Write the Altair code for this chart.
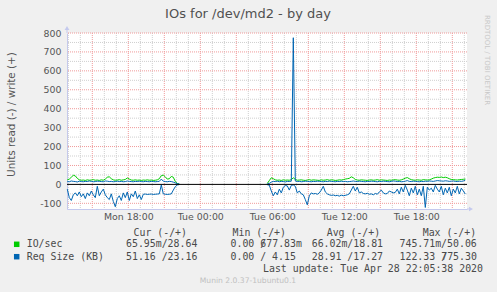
import altair as alt
import pandas as pd

# ---------------- data ----------------
# first run of samples: Mon 12:55 -> Mon 22:15, every 10 minutes
io_write_1 = [24, 28, 38, 48, 45, 32, 24, 22, 23, 21,
              24, 22, 23, 25, 22, 23, 21, 24, 22, 28,
              38, 40, 30, 24, 22, 23, 25, 22, 24, 26,
              34, 28, 23, 22, 24, 22, 23, 21, 23, 22,
              24, 22, 23, 21, 22, 24, 30, 46, 49, 40,
              28, 30, 42, 38, 15, 5, 2]
req_write_1 = [15, 14, 18, 16, 15, 13, 17, 15, 14, 16,
               15, 18, 16, 14, 15, 17, 16, 15, 14, 18,
               17, 15, 16, 14, 15, 17, 15, 16, 14, 15,
               18, 16, 15, 14, 16, 15, 17, 15, 14, 16,
               15, 14, 16, 15, 14, 15, 16, 28, 17, 15,
               14, 16, 15, 12, 8, 4, 2]
req_read_1 = [-25, -70, -85, -55, -45, -60, -40, -65, -50, -75,
              -45, -60, -35, -55, -70, -10, -60, -40, -25, -55,
              -70, -80, -50, -90, -118, -75, -60, -85, -45, -70,
              -40, -85, -50, -65, -35, -75, -55, -80, -52, -51,
              -53, -52, -51, -53, -52, -51, -50, -3, -50, -52,
              -53, -52, -50, -30, -12, -3, -1]

# second run of samples: Tue 05:35 -> Tue 22:05, every 10 minutes
io_write_2 = [5, 20, 35, 30, 24, 22, 23, 21, 24, 22,
              23, 22, 25, 35, 26, 22, 23, 24, 22, 21,
              23, 25, 22, 24, 23, 22, 21, 24, 22, 23,
              25, 22, 24, 23, 21, 22, 24, 23, 25, 28,
              30, 32, 40, 35, 26, 23, 22, 24, 23, 22,
              21, 23, 24, 22, 23, 25, 22, 24, 23, 22,
              21, 23, 22, 24, 25, 23, 22, 24, 28, 33,
              36, 30, 25, 23, 22, 24, 23, 22, 25, 24,
              23, 24, 28, 33, 36, 38, 37, 39, 36, 38,
              35, 30, 26, 25, 24, 23, 25, 26, 27, 29]
req_write_2 = [3, 5, 12, 16, 15, 17, 14, 16, 15, 13,
               16, 15, 17, 775, 18, 15, 16, 14, 15, 17,
               16, 15, 14, 16, 15, 17, 16, 15, 14, 16,
               15, 17, 16, 15, 14, 16, 15, 17, 15, 16,
               14, 15, 16, 18, 16, 15, 17, 16, 15, 14,
               16, 15, 17, 16, 15, 14, 16, 15, 17, 16,
               15, 14, 16, 18, 17, 15, 16, 14, 15, 17,
               20, 16, 15, 17, 16, 15, 14, 16, 15, 17,
               16, 18, 17, 16, 18, 20, 19, 18, 17, 19,
               18, 16, 17, 18, 16, 15, 17, 16, 18, 23]
req_read_2 = [-2, -4, -35, -60, -40, -55, -25, -45, -15, -6,
              -8, -30, -5, -3, -10, -45, -35, -50, -55, -80,
              -108, -60, -45, -50, -48, -52, -45, -30, -10, -40,
              -50, -55, -58, -56, -60, -58, -62, -57, -60, -58,
              -55, -50, -30, -10, -35, -15, -45, -40, -48, -50,
              -47, -52, -50, -55, -48, -52, -40, -30, -45, -50,
              -48, -35, -40, -45, -42, -25, -50, -15, -40, -5,
              -30, -60, -20, -45, -10, -55, -25, -60, -10, -122,
              -15, -30, -20, -40, -5, -25, -40, -10, -55, -20,
              -45, -15, -60, -25, -45, -10, -50, -20, -35, -51]

SEG1_START = "2020-04-27 12:55"
SEG2_START = "2020-04-28 05:35"
STEP = "10min"

legend_names = ["IO/sec", "Req Size (KB)"]
legend_colors = ["#00CC00", "#0066B3"]
col_heads = ["Cur (-/+)", "Min (-/+)", "Avg (-/+)", "Max (-/+)"]
cur_vals = ["65.95m/28.64", "51.16 /23.16"]
min_vals = ["0.00 /677.83m", "0.00 / 4.15"]
avg_vals = ["66.02m/18.81", "28.91 /17.27"]
max_vals = ["745.71m/50.06", "122.33 /775.30"]
title_text = "IOs for /dev/md2 - by day"
y_title = "Units read (-) / write (+)"
last_update = "Last update: Tue Apr 28 22:05:38 2020"
version_text = "Munin 2.0.37-1ubuntu0.1"
side_text = "RRDTOOL / TOBI OETIKER"

# ---------------- build tables ----------------
def seg_frame(values, start, series, seg):
    t = pd.date_range(start, periods=len(values), freq=STEP)
    return pd.DataFrame({"time": t, "value": values, "series": series, "seg": seg})

frames = []
for name, s1, s2 in [("io", io_write_1, io_write_2),
                     ("req_w", req_write_1, req_write_2),
                     ("req_r", req_read_1, req_read_2)]:
    frames.append(seg_frame(s1, SEG1_START, name, 1))
    frames.append(seg_frame(s2, SEG2_START, name, 2))
df = pd.concat(frames, ignore_index=True)

hours = pd.date_range("2020-04-27 13:00", "2020-04-28 22:00", freq="h")
grid_x_minor = pd.DataFrame({"time": [h for h in hours if h.hour % 3 != 0]})
grid_x_major = pd.DataFrame({"time": [h for h in hours if h.hour % 3 == 0]})
grid_y_minor = pd.DataFrame({"v": list(range(-50, 800, 100))})
grid_y_major = pd.DataFrame({"v": [v for v in range(-100, 801, 100) if v != 0]})
zero_df = pd.DataFrame({"v": [0]})
one = pd.DataFrame({"k": [0]})

# ---------------- scales / axes ----------------
AXC = "#c4c9ee"
TXT = "#4a4a4a"
X_SCALE = alt.Scale(domain=[alt.DateTime(year=2020, month=4, date=27, hours=12, minutes=53, seconds=30),
                            alt.DateTime(year=2020, month=4, date=28, hours=22, minutes=13, seconds=30)])
Y_SCALE = alt.Scale(domain=[-130, 800], nice=False, zero=False)

label_times = [alt.DateTime(year=2020, month=4, date=d, hours=h)
               for d, h in [(27, 18), (28, 0), (28, 6), (28, 12), (28, 18)]]
X_AXIS = alt.Axis(values=label_times, format="%a %H:%M", grid=False, ticks=False,
                  labelFont="DejaVu Sans", labelFontSize=9.4, labelColor="#555555",
                  labelPadding=3, labelFlush=False, labelOverlap=False,
                  domainColor=AXC, title=None)
Y_AXIS = alt.Axis(values=list(range(-100, 801, 100)), labelExpr="datum.value", grid=False,
                  ticks=False, labelFont="DejaVu Sans", labelFontSize=9.4,
                  labelColor="#555555", labelPadding=6, labelFlush=False,
                  domainColor=AXC, title=y_title, titleFont="DejaVu Sans",
                  titleFontSize=10.4, titleFontWeight="normal", titleColor="#555555",
                  titleX=-56, titleY=81, titleAngle=270, titleBaseline="middle",
                  titleAlign="center")

def xenc(field="time"):
    return alt.X(f"{field}:T", scale=X_SCALE, axis=X_AXIS)

def yenc(field):
    return alt.Y(f"{field}:Q", scale=Y_SCALE, axis=Y_AXIS)

layers = []
layers.append(alt.Chart(grid_x_minor).mark_rule(color="#cfcfcf", strokeDash=[1, 1], strokeWidth=1)
              .encode(x=xenc()))
layers.append(alt.Chart(grid_y_minor).mark_rule(color="#cfcfcf", strokeDash=[1, 1], strokeWidth=1)
              .encode(y=yenc("v")))
layers.append(alt.Chart(grid_x_major).mark_rule(color="#f09a9a", strokeDash=[1, 1], strokeWidth=1)
              .encode(x=xenc()))
layers.append(alt.Chart(grid_y_major).mark_rule(color="#f09a9a", strokeDash=[1, 1], strokeWidth=1)
              .encode(y=yenc("v")))

base = alt.Chart(df)
layers.append(base.transform_filter(alt.datum.series == "io")
              .mark_line(color="#00CC00", strokeWidth=1)
              .encode(x=xenc(), y=yenc("value"), detail="seg:N"))
layers.append(base.transform_filter(alt.datum.series == "req_w")
              .mark_line(color="#0066B3", strokeWidth=1)
              .encode(x=xenc(), y=yenc("value"), detail="seg:N"))
layers.append(base.transform_filter(alt.datum.series == "req_r")
              .mark_line(color="#0066B3", strokeWidth=1)
              .encode(x=xenc(), y=yenc("value"), detail="seg:N"))
layers.append(alt.Chart(zero_df).mark_rule(color="#000000", strokeWidth=1)
              .encode(y=yenc("v")))

# axis arrows
layers.append(alt.Chart(one).mark_rule(color=AXC)
              .encode(x=alt.value(0), y=alt.value(-5), y2=alt.value(0)))
layers.append(alt.Chart(one).mark_point(shape="triangle-up", filled=True, size=22, color=AXC, opacity=1)
              .encode(x=alt.value(0), y=alt.value(-5)))
layers.append(alt.Chart(one).mark_rule(color=AXC)
              .encode(x=alt.value(400), x2=alt.value(404), y=alt.value(176)))
layers.append(alt.Chart(one).mark_point(shape="triangle-right", filled=True, size=22, color=AXC, opacity=1)
              .encode(x=alt.value(404), y=alt.value(176)))

def text(s, x, y, size=9.9, color=TXT, font="DejaVu Sans Mono", align="left", angle=0):
    return (alt.Chart(one)
            .mark_text(text=s, font=font, fontSize=size, color=color, align=align,
                       baseline="middle", angle=angle)
            .encode(x=alt.value(x), y=alt.value(y)))

OX, OY = 67, 33  # plot origin in page pixels
layers.append(text(title_text, 248 - OX, 13.5 - OY, size=13, color="#505050",
                   font="DejaVu Sans", align="center"))
layers.append(text(side_text, 487 - OX, 60 - OY, size=7, color="#c8c8c8",
                   font="DejaVu Sans", align="center", angle=90))

CW = 0.602 * 9.9
head_x = [133.5, 232.5, 326.7, 422.7]
col_x = [126, 230.5, 311.7, 399.5]
row_y = [244.3, 256.7]
for h, hx in zip(col_heads, head_x):
    layers.append(text(h, hx - OX, 232.7 - OY))
overlap = {(0, 1), (1, 3)}
for r in range(2):
    layers.append(alt.Chart(one).mark_square(size=30, color=legend_colors[r], opacity=1)
                  .encode(x=alt.value(16.7 - OX), y=alt.value(row_y[r] - OY)))
    layers.append(text(legend_names[r], 26.7 - OX, row_y[r] - OY))
    for c, vals in enumerate([cur_vals, min_vals, avg_vals, max_vals]):
        s = vals[r]
        x0 = col_x[c] - OX
        if (r, c) in overlap:
            a, b = s.split("/")
            xs = x0 + len(a) * CW
            layers.append(text(a, x0, row_y[r] - OY))
            layers.append(text("/", xs, row_y[r] - OY))
            layers.append(text(b, xs, row_y[r] - OY))
        else:
            layers.append(text(s, x0, row_y[r] - OY))
layers.append(text(last_update, 483 - OX, 269 - OY, align="right"))
layers.append(text(version_text, 248 - OX, 281 - OY, size=7.6, color="#c0c0c0",
                   font="DejaVu Sans", align="center"))

chart = (alt.layer(*layers)
         .properties(width=400, height=176,
                     autosize=alt.AutoSizeParams(type="none"),
                     padding={"left": OX, "top": OY, "right": 30, "bottom": 83},
                     background="#f0f0f0")
         .configure_view(stroke=None, fill="white"))

chart.save("out.html", embed_options={"renderer": "svg", "actions": False})
